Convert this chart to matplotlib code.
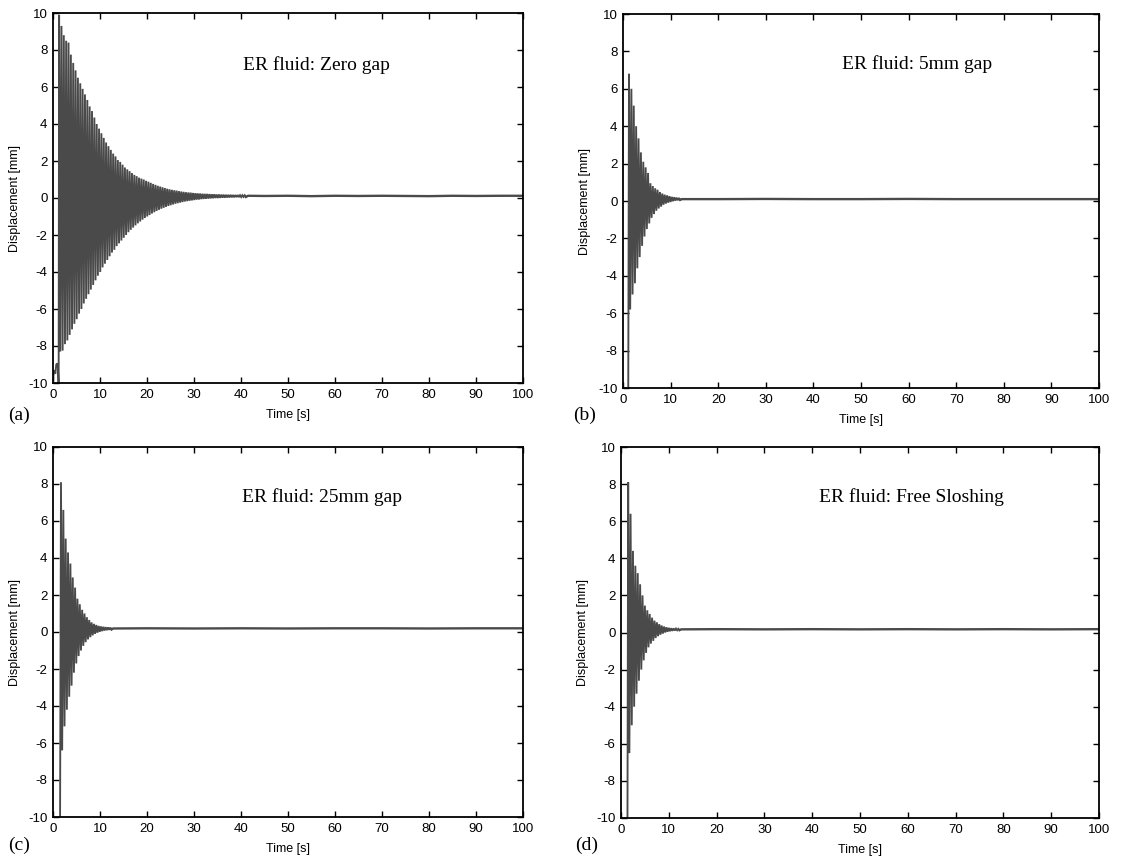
import numpy as np
import matplotlib
matplotlib.use("Agg")
import matplotlib.pyplot as plt

plt.rcParams["font.family"] = ["Liberation Sans", "DejaVu Sans"]
plt.rcParams["axes.unicode_minus"] = False

# ---------------------------------------------------------------------------
# Free-decay displacement records of the tank (ER fluid damper).
# Each record: a short segment before release, alternating upper/lower
# oscillation peaks, and the settled tail.
# ---------------------------------------------------------------------------
titles = ["ER fluid: Zero gap", "ER fluid: 5mm gap",
          "ER fluid: 25mm gap", "ER fluid: Free Sloshing"]
panel_tags = ["(a)", "(b)", "(c)", "(d)"]

# (a) zero gap
pre_t_a = [0.0, 0.1, 0.3, 0.5, 0.7, 0.9, 1.05, 1.2]
pre_y_a = [-10.0, -9.6, -9.3, -9.5, -9.0, -8.95, -9.1, -10.3]
start_a, period_a = 1.3, 0.5
hi_a = [9.9, 9.3, 8.8, 8.5, 8.4, 7.75, 7.3, 6.9, 6.5, 6.2,
        5.9, 5.6, 5.3, 4.95, 4.7, 4.35, 4.0, 3.75, 3.5, 3.25,
        3.0, 2.8, 2.6, 2.4, 2.25, 2.05, 1.95, 1.8, 1.65, 1.55,
        1.45, 1.35, 1.25, 1.18, 1.1, 1.05, 1.0, 0.93, 0.88, 0.82,
        0.76, 0.71, 0.66, 0.62, 0.58, 0.54, 0.5, 0.47, 0.44, 0.42,
        0.4, 0.37, 0.35, 0.33, 0.31, 0.3, 0.29, 0.27, 0.26, 0.25,
        0.24, 0.23, 0.22, 0.22, 0.21, 0.2, 0.2, 0.19, 0.19, 0.18,
        0.18, 0.17, 0.17, 0.17, 0.16, 0.16, 0.16, 0.15, 0.15, 0.15]
lo_a = [-8.3, -8.25, -7.9, -7.7, -7.4, -7.1, -6.8, -6.55, -6.25, -6.0,
        -5.7, -5.45, -5.2, -4.95, -4.7, -4.45, -4.2, -4.0, -3.75, -3.55,
        -3.35, -3.15, -2.95, -2.8, -2.6, -2.45, -2.3, -2.15, -2.0, -1.85,
        -1.72, -1.6, -1.48, -1.37, -1.27, -1.17, -1.08, -1.0, -0.92, -0.84,
        -0.77, -0.7, -0.64, -0.58, -0.53, -0.48, -0.43, -0.39, -0.35, -0.31,
        -0.28, -0.25, -0.22, -0.19, -0.17, -0.15, -0.13, -0.11, -0.09, -0.08,
        -0.06, -0.05, -0.04, -0.03, -0.02, -0.01, 0.0, 0.0, 0.01, 0.02,
        0.02, 0.03, 0.03, 0.04, 0.04, 0.05, 0.05, 0.05, 0.06, 0.06]
tail_t_a = [41.5, 45, 50, 55, 60, 65, 70, 75, 80, 85, 90, 95, 100]
tail_y_a = [0.12, 0.11, 0.12, 0.1, 0.12, 0.11, 0.12, 0.11, 0.1, 0.12, 0.11, 0.12, 0.12]

# (b) 5 mm gap
pre_t_b = [1.1]
pre_y_b = [-10.5]
start_b, period_b = 1.26, 0.5
hi_b = [6.8, 6.0, 5.1, 4.0, 3.35, 2.6, 2.1, 1.8, 1.5, 0.95, 0.8,
        0.68, 0.6, 0.48, 0.4, 0.34, 0.3, 0.26, 0.22, 0.2, 0.18, 0.16]
lo_b = [-5.8, -5.0, -4.4, -3.6, -3.0, -2.4, -1.9, -1.5, -1.2, -0.9, -0.7,
        -0.52, -0.4, -0.3, -0.2, -0.14, -0.09, -0.05, -0.01, 0.02, 0.04, 0.06]
tail_t_b = [12.3, 20, 30, 40, 50, 60, 70, 80, 90, 100]
tail_y_b = [0.1, 0.1, 0.11, 0.1, 0.1, 0.11, 0.1, 0.1, 0.1, 0.1]

# (c) 25 mm gap
pre_t_c = [1.5]
pre_y_c = [-10.5]
start_c, period_c = 1.7, 0.5
hi_c = [8.1, 6.6, 5.05, 4.3, 3.7, 2.95, 2.4, 1.8, 1.5, 1.2, 1.0,
        0.8, 0.65, 0.52, 0.44, 0.38, 0.33, 0.3, 0.28, 0.26, 0.25, 0.24]
lo_c = [-6.4, -5.1, -4.2, -3.5, -2.9, -2.2, -1.7, -1.3, -1.0, -0.75, -0.55,
        -0.4, -0.28, -0.18, -0.1, -0.04, 0.01, 0.05, 0.08, 0.1, 0.12, 0.14]
tail_t_c = [12.8, 20, 30, 40, 50, 60, 70, 80, 90, 100]
tail_y_c = [0.19, 0.2, 0.19, 0.2, 0.19, 0.2, 0.2, 0.19, 0.2, 0.2]

# (d) free sloshing
pre_t_d = [1.35]
pre_y_d = [-10.5]
start_d, period_d = 1.5, 0.5
hi_d = [8.1, 6.4, 4.4, 3.6, 3.2, 2.6, 2.0, 1.45, 1.2, 1.0, 0.8,
        0.64, 0.55, 0.45, 0.38, 0.32, 0.28, 0.25, 0.23, 0.22, 0.21, 0.2]
lo_d = [-6.5, -5.0, -4.0, -3.3, -2.6, -2.0, -1.5, -1.1, -0.8, -0.6, -0.45,
        -0.3, -0.2, -0.12, -0.06, 0.0, 0.04, 0.07, 0.09, 0.11, 0.12, 0.13]
tail_t_d = [12.6, 20, 30, 40, 50, 60, 70, 80, 90, 100]
tail_y_d = [0.17, 0.18, 0.17, 0.18, 0.17, 0.18, 0.17, 0.18, 0.17, 0.18]

x_ticks = list(range(0, 101, 10))
y_ticks = list(range(-10, 11, 2))

records = [
    (pre_t_a, pre_y_a, start_a, period_a, hi_a, lo_a, tail_t_a, tail_y_a),
    (pre_t_b, pre_y_b, start_b, period_b, hi_b, lo_b, tail_t_b, tail_y_b),
    (pre_t_c, pre_y_c, start_c, period_c, hi_c, lo_c, tail_t_c, tail_y_c),
    (pre_t_d, pre_y_d, start_d, period_d, hi_d, lo_d, tail_t_d, tail_y_d),
]


def build_parts(pre_t, pre_y, start, period, hi, lo, tail_t, tail_y):
    """Return the oscillating part (pre-release + peaks) and the tail."""
    t_hi = start + period * np.arange(len(hi))
    t_lo = t_hi + period / 2.0
    t_mid = np.column_stack([t_hi, t_lo]).ravel()
    y_mid = np.column_stack([hi, lo]).ravel()
    t_osc = np.concatenate([pre_t, t_mid])
    y_osc = np.concatenate([pre_y, y_mid])
    t_tail = np.concatenate([[t_osc[-1]], tail_t])
    y_tail = np.concatenate([[y_osc[-1]], tail_y])
    return t_osc, y_osc, t_tail, y_tail


W, H = 1131, 861
fig = plt.figure(figsize=(W / 100, H / 100), dpi=100)

# axes boxes in pixels: left, top, right, bottom
boxes = [(53, 13, 523, 383), (623, 14, 1099, 388),
         (53, 447, 523, 817), (621, 447, 1099, 818)]
title_pos = [(40.4, 7.2), (46.0, 7.3), (40.2, 7.3), (41.4, 7.3)]
tag_pos = [(8, 415), (573, 415), (8, 845), (575, 845)]

line_color = "#4a4a4a"

for i, (box, rec) in enumerate(zip(boxes, records)):
    l, t, r, b = box
    ax = fig.add_axes([l / W, 1 - b / H, (r - l) / W, (b - t) / H])
    t_osc, y_osc, t_tail, y_tail = build_parts(*rec)
    ax.plot(t_osc, y_osc, color=line_color, lw=1.35, solid_joinstyle="miter")
    ax.plot(t_tail, y_tail, color=line_color, lw=1.7)

    ax.set_xlim(0, 100)
    ax.set_ylim(-10, 10)
    ax.set_xticks(x_ticks)
    ax.set_yticks(y_ticks)
    ax.tick_params(direction="in", top=True, right=True, length=4,
                   width=1.0, labelsize=9.5, pad=4, colors="black")
    for sp in ax.spines.values():
        sp.set_linewidth(1.3)
    ax.set_xlabel("Time [s]", fontsize=9, labelpad=6)
    ax.set_ylabel("Displacement [mm]", fontsize=9, labelpad=5)

    tx, ty = title_pos[i]
    ax.text(tx, ty, titles[i], fontsize=14, va="center", ha="left",
            family=["Liberation Serif", "DejaVu Serif"])

    px, py = tag_pos[i]
    fig.text(px / W, 1 - py / H, panel_tags[i], fontsize=14, va="center",
             ha="left", family=["Liberation Serif", "DejaVu Serif"])

fig.savefig("out.png", dpi=100)
